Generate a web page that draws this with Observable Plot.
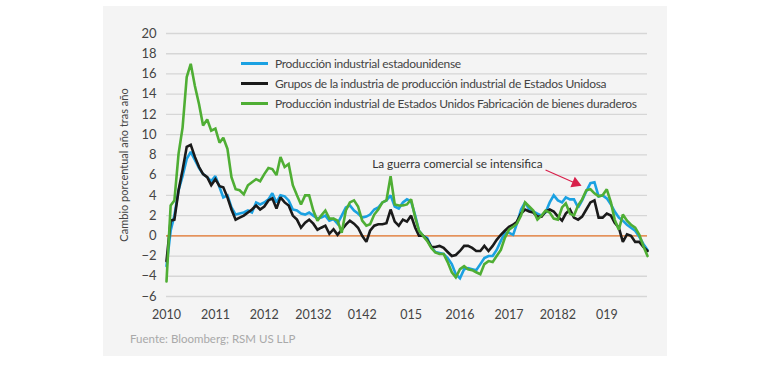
<!DOCTYPE html>
<html>
<head>
<meta charset="utf-8">
<script src="https://cdn.jsdelivr.net/npm/d3@7"></script>
<script src="https://cdn.jsdelivr.net/npm/@observablehq/plot@0.6"></script>
<style>
  html, body { margin: 0; padding: 0; background: #ffffff; }
  body { width: 770px; height: 367px; position: relative; overflow: hidden; font-family: Lato, "Open Sans", sans-serif; }
  #panel { position: absolute; left: 103px; top: 6px; width: 564px; height: 350px; background: #f4f4f4; }
  #chart { position: absolute; left: 0; top: 0; }
  #legend { position: absolute; left: 241px; top: 53px; font-size: 12px; letter-spacing: -0.3px; color: #444; }
  #legend .row { height: 20px; line-height: 17px; display: flex; align-items: center; white-space: nowrap; }
  #legend .sw { width: 27px; height: 3px; margin-right: 7px; display: inline-block; }
  #caption { position: absolute; left: 130px; top: 332px; font-size: 11.5px; color: #a9a9a9; white-space: nowrap; }
</style>
</head>
<body>
<div id="panel"></div>
<div id="chart"></div>
<div id="legend"></div>
<div id="caption"></div>
<script>
// ---- Data (monthly, Jan 2010 – Nov 2019, YoY % change) ----
const startYear = 2010;
const seriesNames = [
  "Producción industrial estadounidense",
  "Grupos de la industria de producción industrial de Estados Unidosa",
  "Producción industrial de Estados Unidos Fabricación de bienes duraderos"
];
const seriesColors = ["#1ba1e2", "#1a1a1a", "#4fae34"];

const industrialProduction = [
  -3.0, 0.5, 2.0, 4.5, 5.9, 7.6, 8.3, 7.5, 6.7, 6.1, 5.8, 5.4,
  5.9, 4.8, 3.8, 4.0, 2.8, 2.1, 2.2, 2.3, 2.5, 2.3, 3.3, 3.1,
  3.3, 3.6, 4.2, 3.3, 4.0, 3.9, 3.5, 2.6, 2.5, 2.2, 2.1, 2.3,
  2.0, 1.7, 1.8, 2.0, 1.5, 1.65, 1.2, 2.0, 2.8, 3.0, 2.5, 2.2,
  1.8, 1.9, 2.1, 2.6, 2.8, 3.3, 3.5, 4.0, 2.9, 2.7, 3.3, 3.6,
  3.4, 2.0, 0.5, 0.0, -0.2, -1.1, -1.6, -1.7, -1.8, -2.2, -2.8, -3.8,
  -4.2, -3.3, -3.2, -3.3, -3.4, -2.8, -2.2, -2.0, -2.0, -1.4, -0.5, 0.3,
  0.3, 0.1, 1.2, 2.6, 3.3, 2.6, 2.4, 2.2, 2.0, 2.3, 3.3, 4.0,
  3.5, 3.3, 3.8, 3.6, 3.6, 2.8, 3.5, 4.4, 5.2, 5.3, 3.9, 4.0,
  3.7, 3.1, 2.4, 1.8, 1.5, 1.1, 0.8, 0.5, -0.1, -0.8, -1.4
];
const industryGroups = [
  -2.5, 1.5, 1.6, 4.5, 6.5, 8.8, 9.0, 7.8, 6.8, 6.1, 5.8, 5.0,
  5.6, 4.9, 4.8, 3.8, 2.6, 1.6, 1.8, 2.0, 2.3, 2.6, 3.0, 2.6,
  2.9, 3.5, 3.7, 2.7, 3.8, 3.3, 3.0, 2.0, 1.6, 0.8, 1.3, 1.6,
  1.2, 0.6, 0.8, 1.0, 0.2, 0.65, 0.1, 0.6, 1.1, 1.5, 1.2, 0.8,
  0.0, -0.6, 0.5, 1.0, 1.15, 1.15, 1.25, 2.6, 1.4, 1.0, 1.6, 1.4,
  2.0, 0.8, 0.0, 0.0, -0.4, -1.1, -1.1, -1.0, -1.2, -1.6, -2.0, -1.9,
  -1.5, -1.0, -1.0, -1.2, -1.5, -1.5, -1.0, -1.5, -1.0, -0.4, 0.1, 0.5,
  0.9, 1.1, 1.4, 2.2, 2.6, 2.4, 2.3, 1.9, 1.9, 2.4, 2.6, 2.4,
  1.9, 1.5, 2.2, 2.6, 1.8, 1.6, 1.9, 2.6, 3.3, 3.5, 1.8, 1.8,
  2.2, 2.0, 1.3, 0.8, -0.6, 0.15, 0.0, -0.6, -0.6, -1.1, -1.5
];
const durableGoods = [
  -4.5, 3.0, 3.5, 8.1, 10.7, 15.7, 17.0, 14.8, 13.0, 10.9, 11.5, 10.4,
  10.6, 9.2, 9.7, 8.6, 5.8, 4.6, 4.5, 4.1, 5.0, 5.3, 5.6, 5.4,
  6.1, 6.7, 6.6, 6.0, 7.8, 6.8, 7.1, 5.0, 4.0, 3.1, 4.0, 4.0,
  2.5, 1.5, 2.0, 2.5, 1.7, 1.7, 1.5, 0.3, 2.5, 3.3, 3.5, 2.9,
  1.5, 1.0, 1.15, 2.1, 2.6, 3.3, 3.5, 5.9, 3.1, 3.0, 3.0, 3.1,
  3.6, 1.8, 0.5, 0.0, -0.5, -1.2, -1.65, -1.8, -1.8, -2.6, -3.6, -4.1,
  -3.3, -3.0, -3.3, -3.4, -3.6, -3.8, -2.8, -2.5, -2.6, -2.0, -1.4, -0.2,
  0.6, 0.9, 1.2, 2.0, 3.3, 2.9, 2.5, 1.6, 2.0, 2.5, 2.3, 1.7,
  1.6, 2.8, 3.2, 2.2, 2.0, 3.0, 3.6, 4.5, 4.6, 4.2, 3.9, 4.0,
  4.6, 3.3, 1.6, 0.6, 2.1, 1.5, 1.1, 0.8, 0.1, -1.0, -2.0
];

const yTicks = [-6, -4, -2, 0, 2, 4, 6, 8, 10, 12, 14, 16, 18, 20];
const xTickYears = [2010, 2011, 2012, 2013, 2014, 2015, 2016, 2017, 2018, 2019];
const xTickLabels = ["2010", "2011", "2012", "20132", "0142", "015", "2016", "2017", "20182", "019"];
const yTitle = "Cambio porcentual año tras año";

const annotationText = "La guerra comercial se intensifica";
const annotationAt = {month: 50.5, value: 7.1};
const arrowFrom = {month: 93, value: 6.5};
const arrowTo = {month: 100.4, value: 5.2};

const captionText = "Fuente: Bloomberg; RSM US LLP";

// ---- Build table ----
const monthDate = (m) => new Date(Date.UTC(startYear, Math.floor(m), 1) + (m - Math.floor(m)) * 30.4 * 864e5);
const allSeries = [industrialProduction, industryGroups, durableGoods];
const rows = [];
allSeries.forEach((vals, s) => {
  vals.forEach((v, i) => rows.push({date: new Date(Date.UTC(startYear, i, 1)), value: v, series: seriesNames[s]}));
});
const nMonths = industrialProduction.length;

const chart = Plot.plot({
  width: 770,
  height: 330,
  marginLeft: 166,
  marginRight: 123,
  marginTop: 33,
  marginBottom: 34,
  style: {background: "transparent", fontFamily: "Lato, 'Open Sans', sans-serif", fontSize: "13px", color: "#444"},
  x: {type: "utc", domain: [new Date(Date.UTC(startYear, 0, 1)), new Date(Date.UTC(startYear, nMonths - 1, 1))]},
  y: {domain: [-6, 20]},
  color: {domain: seriesNames, range: seriesColors},
  marks: [
    Plot.gridY(yTicks, {stroke: "#d6d6d6", strokeOpacity: 1, strokeWidth: 1.3}),
    Plot.ruleY([0], {stroke: "#e8782e", strokeWidth: 1.2}),
    Plot.axisY(yTicks, {tickSize: 0, tickPadding: 10, fontSize: 13, label: null}),
    Plot.text([yTitle], {frameAnchor: "left", rotate: -90, dx: -42, text: d => d, fontSize: 11, letterSpacing: "-0.5px", fill: "#444", textAnchor: "middle"}),
    Plot.axisX(xTickYears.map(y => new Date(Date.UTC(y, 0, 1))), {
      tickSize: 0, tickPadding: 14, fontSize: 12.5, label: null,
      tickFormat: d => xTickLabels[d.getUTCFullYear() - startYear]
    }),
    Plot.line(rows, {x: "date", y: "value", z: "series", stroke: "series", strokeWidth: 2.6, strokeLinejoin: "miter", strokeMiterlimit: 2}),
    Plot.text([annotationAt], {x: d => monthDate(d.month), y: "value", text: () => annotationText, textAnchor: "start", fontSize: 11.8, fill: "#333"}),
    Plot.link([{a: arrowFrom, b: arrowTo}], {
      x1: d => monthDate(d.a.month), y1: d => d.a.value,
      x2: d => monthDate(d.b.month), y2: d => d.b.value,
      stroke: "#d81f4a", strokeWidth: 1.2
    }),
    Plot.dot([arrowTo], {x: d => monthDate(d.month), y: "value", symbol: "triangle", r: 4.2, fill: "#d81f4a", stroke: "none", rotate: 113})
  ]
});
document.getElementById("chart").appendChild(chart);

const legend = document.getElementById("legend");
seriesNames.forEach((n, i) => {
  const r = document.createElement("div");
  r.className = "row";
  const sw = document.createElement("span");
  sw.className = "sw";
  sw.style.background = seriesColors[i];
  const t = document.createElement("span");
  t.textContent = n;
  r.appendChild(sw); r.appendChild(t);
  legend.appendChild(r);
});
document.getElementById("caption").textContent = captionText;
</script>
</body>
</html>
